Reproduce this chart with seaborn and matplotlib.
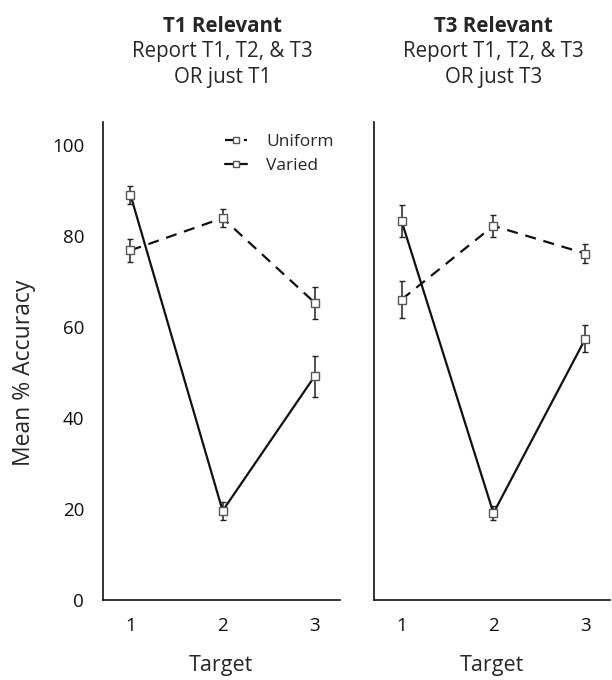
import numpy as np
import pandas as pd
import matplotlib
matplotlib.use("Agg")
import matplotlib.pyplot as plt
import seaborn as sns

targets = [1, 2, 3]
# T1 relevant panel
t1_uniform = [76.8, 83.9, 65.3]
t1_uniform_err = [2.5, 2.0, 3.5]
t1_varied = [89.0, 19.6, 49.2]
t1_varied_err = [2.0, 2.0, 4.5]
# T3 relevant panel
t3_uniform = [66.0, 82.2, 76.1]
t3_uniform_err = [4.0, 2.4, 2.0]
t3_varied = [83.3, 19.1, 57.4]
t3_varied_err = [3.5, 1.5, 3.0]

titles = [("T1 Relevant", "Report T1, T2, & T3", "OR just T1"),
          ("T3 Relevant", "Report T1, T2, & T3", "OR just T3")]

sns.set_style("white")
plt.rcParams['font.family'] = ['Open Sans', 'DejaVu Sans']

fig = plt.figure(figsize=(6.12, 6.8), dpi=100)
ax1 = fig.add_axes([0.168, 0.1176, 0.387, 0.703])
ax2 = fig.add_axes([0.611, 0.1176, 0.386, 0.703])

panels = [(ax1, t1_uniform, t1_uniform_err, t1_varied, t1_varied_err),
          (ax2, t3_uniform, t3_uniform_err, t3_varied, t3_varied_err)]

dash = (0, (5, 3.5))
for i, (ax, u, ue, v, ve) in enumerate(panels):
    df = pd.DataFrame({
        "Target": targets * 2,
        "acc": u + v,
        "cond": ["Uniform"] * 3 + ["Varied"] * 3,
    })
    for cond, ls, err in [("Uniform", dash, ue), ("Varied", "-", ve)]:
        sub = df[df["cond"] == cond]
        ax.errorbar(sub["Target"], sub["acc"], yerr=err, fmt="none",
                    ecolor="#222222", elinewidth=1.1, capsize=2.2, capthick=1.0, zorder=2)
        sns.lineplot(data=sub, x="Target", y="acc", ax=ax, color="#111111",
                     linestyle=ls, linewidth=1.6, marker="s", markersize=6,
                     markerfacecolor="white", markeredgecolor="#555555",
                     markeredgewidth=1.0, label=cond, legend=(i == 0), zorder=3)
    ax.set_xlim(0.7, 3.27)
    ax.set_ylim(0, 105)
    ax.set_xticks(targets)
    ax.set_yticks([0, 20, 40, 60, 80, 100])
    ax.tick_params(direction="in", length=4, width=1, labelsize=13.5, colors="#111111")
    ax.tick_params(axis="y", pad=13.5)
    ax.tick_params(axis="x", pad=12.5)
    for s in ["top", "right"]:
        ax.spines[s].set_visible(False)
    for s in ["left", "bottom"]:
        ax.spines[s].set_color("#111111")
        ax.spines[s].set_linewidth(1.2)
    ax.set_xlabel("Target", fontsize=15.5, labelpad=14)
    ax.set_ylabel("")
    bold, line2, line3 = titles[i]
    cx = ax.transData.transform((2, 0))[0] / fig.bbox.width
    fig.text(cx, 1 - 32 / 680, bold, ha="center", va="baseline", fontsize=14.8, fontweight="bold")
    fig.text(cx, 1 - 57 / 680, line2, ha="center", va="baseline", fontsize=14.8)
    fig.text(cx, 1 - 83 / 680, line3, ha="center", va="baseline", fontsize=14.8)

ax2.set_yticklabels([])
ax1.set_ylabel("Mean % Accuracy", fontsize=16.5)
ax1.yaxis.set_label_coords(-0.28, 0.475)

leg = ax1.legend(loc="upper left", bbox_to_anchor=(0.515, 0.975), frameon=False,
                 fontsize=12.5, handlelength=1.3, handletextpad=1.1, labelspacing=0.45,
                 borderpad=0, borderaxespad=0, markerscale=0.75)

fig.savefig("out.png", dpi=100)
